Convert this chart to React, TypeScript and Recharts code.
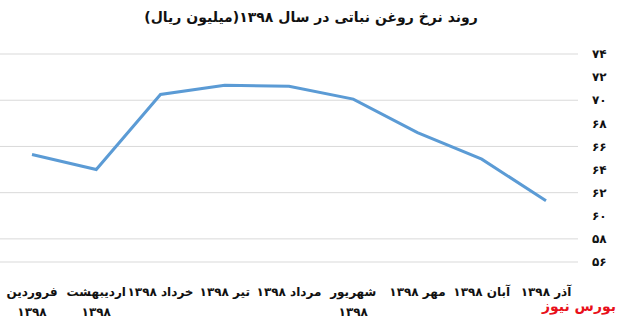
import { LineChart, Line, XAxis, YAxis, CartesianGrid } from 'recharts';

const months = ['فروردین', 'اردیبهشت', 'خرداد', 'تیر', 'مرداد', 'شهریور', 'مهر', 'آبان', 'آذر'];
const year = '۱۳۹۸';
const prices = [65.3, 64.0, 70.5, 71.3, 71.2, 70.1, 67.2, 64.9, 61.3];
const yTicks = [56, 58, 60, 62, 64, 66, 68, 70, 72, 74];

const data = months.map((m, i) => ({ name: m, value: prices[i] }));

const FONT = '"DejaVu Sans", sans-serif';

const toFa = (n: number) => String(n).replace(/\d/g, (d) => '۰۱۲۳۴۵۶۷۸۹'[Number(d)]);

const XTick = (props: any) => {
  const { x, y, payload } = props;
  const month = String(payload.value);
  const wrap = month.length >= 6;
  return (
    <g transform={`translate(${x},${y})`}>
      {wrap ? (
        <text textAnchor="middle" direction="rtl" fontFamily={FONT} fontWeight="bold" fontSize={12} fill="#111">
          <tspan x={0} y={26}>{month}</tspan>
          <tspan x={0} y={46}>{year}</tspan>
        </text>
      ) : (
        <text x={0} y={26} textAnchor="middle" direction="rtl" fontFamily={FONT} fontWeight="bold" fontSize={12} fill="#111">
          {`${month} ${year}`}
        </text>
      )}
    </g>
  );
};

export default function App() {
  return (
    <div style={{ position: 'absolute', left: 0, top: 0, width: 622, height: 322, background: '#fff' }}>
      <svg width={622} height={322} style={{ position: 'absolute', left: 0, top: 0 }}>
        <text x={311} y={22} textAnchor="middle" direction="rtl" fontFamily={FONT} fontWeight="bold" fontSize={14} fill="#111">
          روند نرخ روغن نباتی در سال ۱۳۹۸(میلیون ریال)
        </text>
        <text x={616} y={311} textAnchor="start" direction="rtl" fontFamily={FONT} fontWeight="bold" fontSize={14} fill="#e8101a">
          بورس نیوز
        </text>
      </svg>
      <div style={{ position: 'absolute', left: 0, top: 0 }}>
        <LineChart width={622} height={322} data={data} margin={{ top: 54, right: 0, bottom: 10, left: 0 }}>
          <CartesianGrid vertical={false} stroke="#d9d9d9" strokeWidth={1} />
          <XAxis
            dataKey="name"
            axisLine={false}
            tickLine={false}
            height={50}
            interval={0}
            padding={{ left: 32, right: 32 }}
            tick={<XTick />}
          />
          <YAxis
            orientation="right"
            width={44}
            domain={[56, 74]}
            ticks={yTicks}
            axisLine={false}
            tickLine={false}
            tickMargin={8}
            tickFormatter={toFa}
            tick={{ fontSize: 12, fontWeight: 'bold', fill: '#111', fontFamily: FONT, textAnchor: 'start' }}
          />
          <Line type="linear" dataKey="value" stroke="#5b9bd5" strokeWidth={3} dot={false} isAnimationActive={false} />
        </LineChart>
      </div>
    </div>
  );
}
